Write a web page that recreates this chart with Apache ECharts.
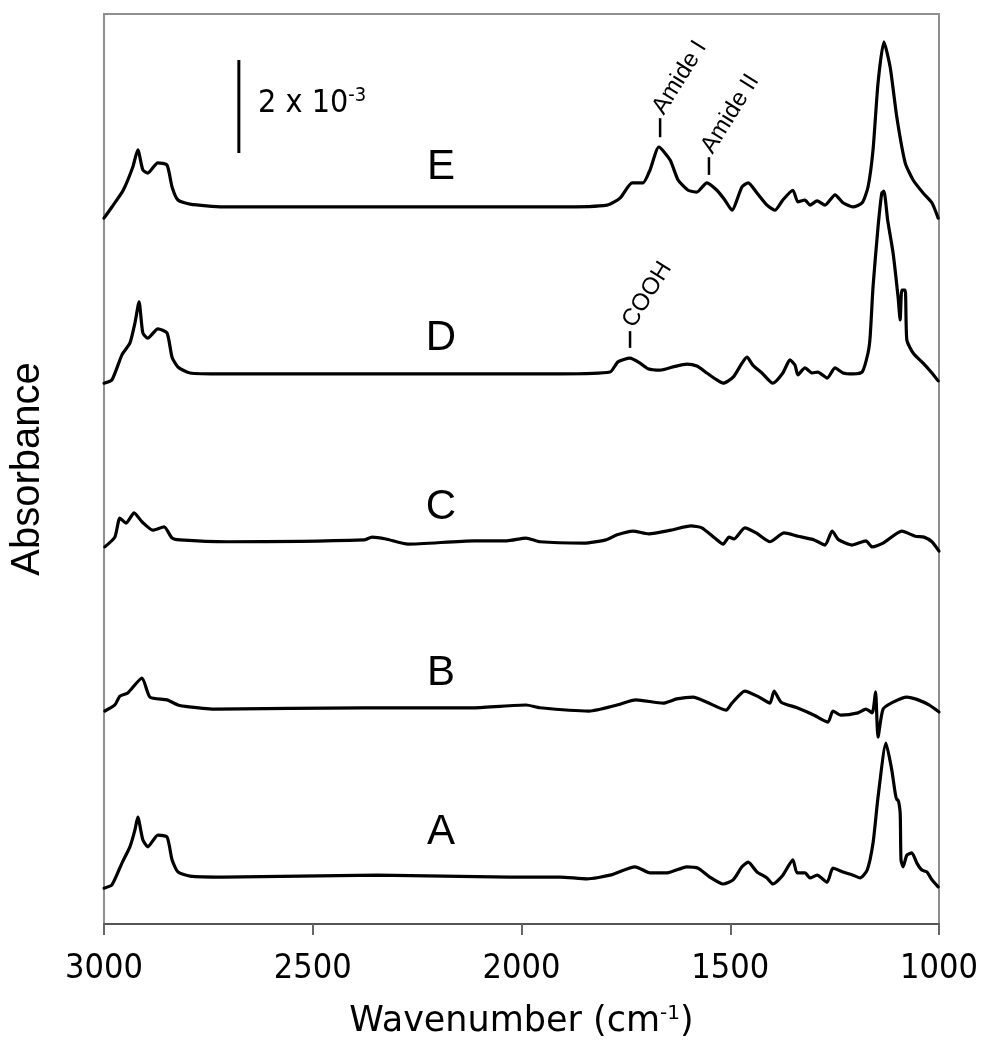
<!DOCTYPE html>
<html><head><meta charset="utf-8">
<script src="https://cdn.jsdelivr.net/npm/echarts@6/dist/echarts.min.js"></script>
<style>html,body{margin:0;padding:0;background:#fff}#c{width:987px;height:1050px}</style>
</head><body><div id="c"></div>
<script>
// Wavenumbers (cm^-1) and absorbance (x10^-3, vertically offset) for each spectrum
const wnA = [3000,2981,2957,2938,2926,2919,2907,2895,2871,2849,2837,2823,2794,2715,2346,2028,1908,1843,1788,1728,1692,1651,1604,1577,1549,1517,1493,1472,1457,1436,1412,1398,1374,1350,1340,1321,1309,1292,1268,1254,1230,1206,1189,1172,1158,1146,1127,1113,1101,1098,1093,1091,1086,1077,1065,1053,1041,1029,1017,1002];
const absA = [0.77,0.84,1.31,1.66,2.02,2.30,1.81,1.66,1.91,1.87,1.38,1.12,1.03,1.01,1.05,1.01,1.01,0.97,1.05,1.23,1.10,1.10,1.23,1.20,1.01,0.86,0.95,1.23,1.33,1.12,0.99,0.86,1.05,1.38,1.10,1.10,0.99,1.05,0.90,1.20,1.12,1.05,0.99,1.16,1.74,2.73,3.89,3.31,2.67,2.67,2.39,1.38,1.23,1.48,1.53,1.31,1.16,1.12,0.95,0.80];

const wnB = [2998,2974,2962,2943,2909,2890,2849,2823,2796,2732,2377,2114,1989,1956,1838,1771,1726,1661,1628,1589,1556,1510,1496,1465,1431,1405,1395,1378,1340,1299,1266,1254,1235,1194,1175,1160,1152,1146,1134,1110,1077,1050,1024,1000];
const absB = [4.58,4.71,4.90,4.97,5.29,4.88,4.82,4.71,4.67,4.62,4.65,4.65,4.71,4.65,4.58,4.71,4.82,4.75,4.84,4.88,4.77,4.60,4.75,5.01,4.88,4.75,5.01,4.77,4.65,4.49,4.34,4.58,4.49,4.54,4.62,4.54,4.99,4.02,4.62,4.77,4.88,4.82,4.71,4.56];

const wnC = [2998,2974,2962,2947,2928,2909,2883,2856,2837,2818,2705,2377,2358,2325,2272,2114,2035,1989,1956,1850,1798,1771,1733,1695,1642,1594,1568,1537,1517,1503,1491,1465,1438,1405,1371,1338,1299,1273,1256,1240,1208,1175,1160,1134,1089,1057,1036,1017,1000];
const absC = [8.11,8.32,8.73,8.62,8.84,8.65,8.47,8.54,8.30,8.26,8.22,8.26,8.32,8.28,8.17,8.24,8.24,8.30,8.22,8.19,8.26,8.37,8.45,8.39,8.47,8.56,8.52,8.30,8.17,8.32,8.28,8.52,8.41,8.22,8.41,8.34,8.26,8.15,8.45,8.26,8.15,8.24,8.11,8.19,8.45,8.34,8.32,8.22,8.02];

const wnD = [3000,2981,2957,2938,2926,2916,2907,2895,2871,2849,2837,2823,2794,2715,1908,1788,1769,1740,1716,1697,1668,1637,1604,1580,1556,1532,1517,1493,1472,1460,1446,1424,1398,1374,1357,1345,1338,1321,1304,1290,1268,1249,1230,1206,1184,1170,1165,1158,1146,1137,1132,1123,1110,1098,1093,1089,1081,1077,1062,1038,1017,1002];
const absD = [11.63,11.70,12.24,12.49,12.92,13.38,12.71,12.60,12.80,12.71,12.19,11.98,11.85,11.83,11.83,11.87,12.09,12.17,12.06,11.94,11.91,11.98,12.04,12.00,11.85,11.70,11.63,11.76,12.06,12.19,12.02,11.85,11.63,11.85,12.13,12.02,11.81,11.96,11.85,11.87,11.74,11.96,11.85,11.83,11.87,12.28,12.62,13.70,14.99,15.72,15.76,15.14,14.43,13.48,12.99,13.63,13.63,12.56,12.28,12.06,11.85,11.68];

const wnE = [3000,2981,2954,2931,2919,2907,2895,2871,2849,2837,2823,2794,2715,2028,1908,1795,1764,1735,1709,1692,1671,1644,1625,1601,1580,1556,1532,1513,1496,1472,1457,1436,1412,1393,1374,1350,1338,1321,1309,1292,1273,1249,1230,1206,1184,1170,1158,1146,1132,1117,1101,1081,1062,1038,1017,1002];
const absE = [15.18,15.42,15.78,16.28,16.65,16.22,16.15,16.37,16.32,15.85,15.57,15.48,15.42,15.42,15.42,15.46,15.61,15.94,15.94,16.22,16.71,16.43,16.00,15.78,15.74,15.94,15.78,15.57,15.35,15.85,15.94,15.72,15.46,15.35,15.57,15.78,15.53,15.57,15.46,15.55,15.46,15.68,15.51,15.42,15.51,15.85,16.65,18.09,18.97,18.43,17.35,16.37,16.00,15.72,15.51,15.18];

const xTicks = [3000, 2500, 2000, 1500, 1000];
const curveNames = ['A', 'B', 'C', 'D', 'E'];
const curveLabelWn = 2193;
const curveLabelY = [1.96, 5.38, 8.95, 12.60, 16.26];

const bandNames = ['Amide I', 'Amide II', 'COOH'];
const bandWn = [1668, 1551, 1740];
const bandTickLow = [16.92, 16.11, 12.39];
const bandTickHigh = [17.33, 16.49, 12.75];

const scaleBarWn = 2677;
const scaleBarRange = [16.58, 18.58];   // 2 x 10^-3
const scaleTextWn = 2631;

const yMin = 0, yMax = 19.57;

const chart = echarts.init(document.getElementById('c'), null, {renderer: 'canvas'});
const spectra = [[wnA, absA], [wnB, absB], [wnC, absC], [wnD, absD], [wnE, absE]];
const series = spectra.map((s, k) => ({
  name: curveNames[k],
  type: 'line',
  data: s[0].map((w, i) => [w, s[1][i]]),
  showSymbol: false,
  symbol: 'none',
  smooth: 0.2,
  lineStyle: {color: '#000', width: 3.2, join: 'round', cap: 'round'},
  z: 3
}));

const condensed = '"DejaVu Sans Condensed", "DejaVu Sans", sans-serif';
const wide = '"DejaVu Sans", Verdana, sans-serif';
chart.setOption({
  animation: false,
  backgroundColor: '#fff',
  grid: {left: 104, right: 48, top: 14, bottom: 126, show: true, borderColor: '#8f8f8f', borderWidth: 2, backgroundColor: 'transparent'},
  xAxis: {
    type: 'value', inverse: true, min: 1000, max: 3000, interval: 500,
    axisLine: {show: true, lineStyle: {color: '#555', width: 2}},
    axisTick: {show: true, length: 11, lineStyle: {color: '#666', width: 2}},
    splitLine: {show: false},
    axisLabel: {margin: 28, fontSize: 34, color: '#000', fontFamily: condensed,
      customValues: xTicks, formatter: v => String(v)},
    name: 'Wavenumber (cm{s|-1})',
    nameLocation: 'middle', nameGap: 80,
    nameTextStyle: {fontSize: 35, color: '#000', fontFamily: wide,
      rich: {s: {fontSize: 20, verticalAlign: 'top', color: '#000', fontFamily: wide}}}
  },
  yAxis: {
    type: 'value', min: yMin, max: yMax,
    axisLine: {show: false}, axisTick: {show: false}, axisLabel: {show: false}, splitLine: {show: false},
    name: 'Absorbance', nameLocation: 'middle', nameGap: 56,
    nameTextStyle: {fontSize: 40, color: '#000', fontFamily: '"Liberation Sans", Arial, sans-serif'}
  },
  series: series
});

// Annotations placed from data coordinates
const px = (w, v) => chart.convertToPixel({gridIndex: 0}, [w, v]);
const g = [];
curveNames.forEach((n, i) => {
  const p = px(curveLabelWn, curveLabelY[i]);
  g.push({type: 'text', x: p[0], y: p[1], z: 10,
    style: {text: n, fontSize: 42, fill: '#000', fontFamily: '"Liberation Sans", Arial, sans-serif', align: 'center', verticalAlign: 'middle'}});
});
bandNames.forEach((n, i) => {
  const a = px(bandWn[i], bandTickLow[i]);
  const b = px(bandWn[i], bandTickHigh[i]);
  g.push({type: 'line', z: 10, shape: {x1: a[0], y1: a[1], x2: b[0], y2: b[1]}, style: {stroke: '#000', lineWidth: 2.5}});
  g.push({type: 'text', x: b[0] - 2, y: b[1] - 6, rotation: 58 * Math.PI / 180, z: 10,
    style: {text: n, fontSize: 24, fill: '#000', fontFamily: '"Liberation Sans", Arial, sans-serif', align: 'left', verticalAlign: 'middle'}});
});
const s0 = px(scaleBarWn, scaleBarRange[0]);
const s1 = px(scaleBarWn, scaleBarRange[1]);
g.push({type: 'line', z: 10, shape: {x1: s0[0], y1: s0[1], x2: s1[0], y2: s1[1]}, style: {stroke: '#000', lineWidth: 3}});
const st = px(scaleTextWn, (scaleBarRange[0] + scaleBarRange[1]) / 2);
g.push({type: 'text', x: st[0], y: st[1] - 4, z: 10,
  style: {text: '{m|2 x 10}{s|-3}', align: 'left', verticalAlign: 'middle',
    rich: {m: {fontSize: 32, lineHeight: 34, fill: '#000', fontFamily: condensed, verticalAlign: 'bottom'},
           s: {fontSize: 20, fill: '#000', fontFamily: condensed, verticalAlign: 'top'}}}});
chart.setOption({graphic: {elements: g}});
</script></body></html>
